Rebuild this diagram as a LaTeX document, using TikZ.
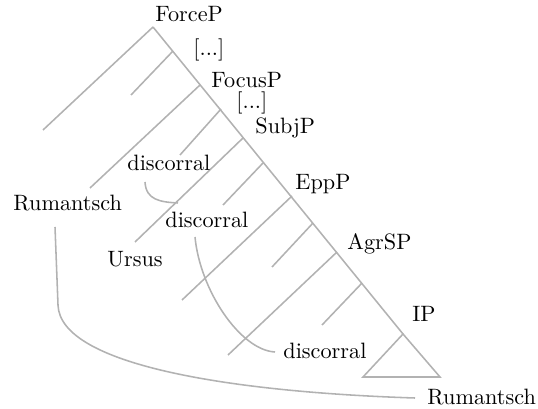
\documentclass[tikz,border=0pt]{standalone}
\usepackage{tikz}
\usetikzlibrary{calc}
\tikzset{
  lbl/.style={inner sep=0pt, anchor=base west, text=black},
  branch/.style={draw=black!30, line width=0.7pt},
}

\begin{document}
\begin{tikzpicture}[x=0.45pt, y=-0.45pt]
    \useasboundingbox (0,0) rectangle (538,408);

    % spine points and ends of the left branches
    \foreach \n/\x/\y/\ex/\ey in {0/153/27/43/130, 1/173/51/131/95, 2/200/85/90/188,
        3/221/109/180/155, 4/243/138/135/242, 5/263/163/223/205, 6/292/196/182/300,
        7/313/223/272/267, 8/337/252/228/355, 9/362/283/322/325} {
      \coordinate (p\n) at (\x,\y);
      \coordinate (e\n) at (\ex,\ey);
    }
    \coordinate (p10) at (403,334);
    \coordinate (t1) at (363,377);
    \coordinate (t2) at (440,377);

    \begin{scope}[branch]
      \draw (p0) -- (p10);
      \foreach \n in {0,...,9}
        \draw (p\n) -- (e\n);
      \draw (p10) -- (t1) -- (t2) -- cycle;
    \end{scope}

    % labels
    \node[lbl] (force) at (155,22) {ForceP};
    \node[lbl] (dots1) at (193,56) {[...]};
    \node[lbl] (focus) at (211,88) {FocusP};
    \node[lbl] (dots2) at (236,109) {[...]};
    \node[lbl] (subj) at (255,134) {SubjP};
    \node[lbl] (epp) at (295,190) {EppP};
    \node[lbl] (agrs) at (347,250) {AgrSP};
    \node[lbl] (ip) at (412,321) {IP};

    \node[lbl] (disc1) at (127,171) {discorral};
    \node[lbl] (disc2) at (165,228) {discorral};
    \node[lbl] (disc3) at (283,358) {discorral};
    \node[lbl] (rum1) at (13,211) {Rumantsch};
    \node[lbl] (ursus) at (107,266) {Ursus};
    \node[lbl] (rum2) at (427,404) {Rumantsch};

    % movement
    \begin{scope}[branch]
      \draw ([shift={(18,11)}]disc1.base west) .. controls +(1,18) and +(-18,-1) .. ([shift={(13,-25)}]disc2.base west);
      \draw ([shift={(30,9)}]disc2.base west) .. controls +(5,53) and +(-35,-2) .. ([shift={(-8,-6)}]disc3.base west);
      \draw ([shift={(42,16)}]rum1.base west) -- ++(3,78) .. controls +(2,60) and +(-185,-6) .. ([shift={(-12,-6)}]rum2.base west);
    \end{scope}
\end{tikzpicture}
\end{document}
